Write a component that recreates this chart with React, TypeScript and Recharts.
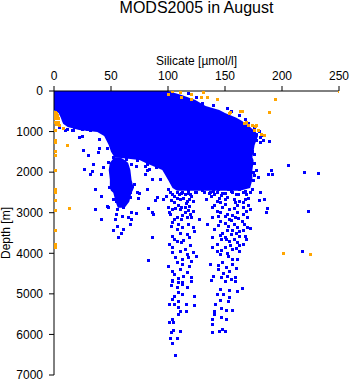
import React from 'react';
import { ComposedChart, XAxis, YAxis, Area, Scatter } from 'recharts';

const FONT = '"Liberation Sans", Arial, Helvetica, sans-serif';
const BLUE = '#0000ff';
const ORANGE = '#ffa500';

const X_TICKS = [0, 50, 100, 150, 200, 250];
const Y_TICKS = [0, 1000, 2000, 3000, 4000, 5000, 6000, 7000];

// dense cloud outline: depth rows with silicate low/high
const mainDepth = [0, 100, 220, 370, 470, 540, 660, 740, 810, 890, 960, 1010, 1110, 1330, 1500, 1630, 1700, 1770, 1950, 2190, 2390, 2460];
const mainLow = [0, 0, 0, 0, 0, 4, 6, 7, 8, 12, 22, 38, 44, 48, 50, 53, 75, 80, 95, 100, 104, 108];
const mainHigh = [100, 112, 124, 133, 145, 150, 160, 165, 168, 172, 175, 177, 179, 176, 175, 174, 175, 175, 174, 174, 172, 163];
const col1Depth = [1630, 1700, 1770, 1950, 2190, 2390, 2460, 2510, 2730, 2880];
const col1Low = [53, 51, 49, 48, 49, 49, 50, 52, 54, 56];
const col1High = [58, 62, 65, 67, 68, 70, 69, 68, 66, 62];

// [silicate, depth]
const blueEdge = [
  [25,1130],[26,1455],[30,1600],[35,1820],[27,1945],[34,1995],[42,2070],[43,1895],[40,1205],[47,1405],[39,1525],[52,1650],[48,1750],[61,1600],[64,1700],[68,1650],[73,1725],[72,1870],[68,1820],[80,1870],[82,1970],[80,2070],[71,2315],[64,2215],[25,960],[32,985],[17,985],[22,1155],[16,985],[18,910],[25,885],[29,960],[33,860],[38,885],[39,985],[43,1035],[10,985],[12,960],[5,910],[40,1420],[32,2070],[47,2855],[82,1700],[90,1895],[86,2190],[93,2190],[91,2635],[96,2685],[86,3005],[84,1700],[87,1775],[82,1820],[84,1945],[89,1650],
  [118,50],[125,150],[130,300],[140,350],[152,420],[156,500],[163,600],[168,700],[171,790],[176,880],[180,1000],[182,1100],
  [108,2500],[112,2520],[118,2470],[125,2500],[130,2460],[136,2530],[143,2500],[150,2520],[156,2480],[162,2540],[168,2480],[120,2560],[147,2580]
];
const blueCol1 = [
  [36,2440],[42,2610],[36,2930],[42,3155],[49,2390],[52,2365],[55,2440],[60,2390],[64,2440],[62,2610],[58,2610],[67,2635],[60,2810],[56,2930],[61,2880],[55,3055],[60,3105],[54,3175],[65,3130],[68,3175],[67,3300],[56,3350],[52,3450],[61,3425],[59,3500],[57,3620],[72,3030],[68,3005],[48,2880],[52,2685],[73,2490],[82,2440],[75,2535],[74,2660],[83,2905],[83,4185],[67,2490],[69,2365],[55,2735],[62,2760],[86,3600]
];
const blueColA = [
  [100,2440],[99,2610],[108,2390],[113,2490],[118,2390],[122,2365],[111,2685],[106,2760],[117,2735],[119,2685],[104,2930],[111,2930],[115,2880],[122,2980],[100,2880],[106,3175],[112,3175],[117,3130],[121,3130],[128,3155],[104,3250],[109,3300],[113,3375],[122,3375],[108,3425],[117,3545],[104,3595],[119,3620],[108,3720],[112,3745],[104,3865],[104,3990],[111,3965],[117,4040],[122,3990],[125,4090],[118,4115],[108,4235],[100,4335],[113,4285],[119,4335],[111,4410],[117,4485],[106,4530],[121,4605],[104,4705],[113,4730],[87,3055],[89,2710],[104,2560],[115,2560],[124,2490],[109,2810],[119,2855],[102,3055],[115,3005],
  [102,2490],[110,2540],[118,2520],[106,2610],[114,2640],[121,2600],[103,2700],[108,2660],[116,2780],[122,2720],[112,2860],[107,2900],[118,2950],[101,2990],[113,3080],[120,3050],[108,3120],[103,3350],[118,3300],[111,3500],[123,3460],[106,3650],[114,3680],[101,3780],[120,3800],[115,3900],[107,4100],[113,4160],[121,4200],[104,4450],[114,4560],[109,4620],
  [104,4680],[109,4730],[113,4780],[103,4800],[108,4850],[117,4850],[121,4705],[109,4975],[113,5025],[123,5075],[106,5075],[104,5150],[109,5195],[116,5270],[106,5270],[101,5270],[109,5345],[123,5295],[111,5445],[116,5445],[109,5515],[104,5640],[105,5715],[101,5715],[105,5910],[111,5935],[103,5960],[102,6110],[108,6110],[104,6230],[107,6525]
];
const blueColB = [
  [132,2365],[137,2490],[141,2560],[134,2685],[146,2760],[152,2635],[157,2510],[163,2440],[169,2560],[161,2810],[154,2930],[166,2880],[150,3105],[159,3130],[165,3225],[146,3225],[153,3350],[161,3375],[148,3500],[156,3545],[163,3595],[147,3670],[154,3720],[161,3745],[150,3865],[157,3915],[139,3865],[143,3965],[153,4090],[161,4160],[148,4235],[157,4285],[144,4410],[154,4460],[147,4605],[156,4655],[137,4285],[135,3300],[139,3620],[170,3375],[169,3670],[141,2810],[150,2685],[168,2685],[146,3005],[161,3005],[154,3175],[166,3055],[141,3425],[163,3475],[151,3670],[166,3795],[146,4040],[163,3965],[139,3130],[159,2760],[144,2440],[153,2440],[172,2490],[132,2510],
  [140,2480],[148,2520],[160,2560],[166,2510],[138,2600],[145,2640],[158,2680],[163,2720],[171,2640],[143,2720],[150,2790],[166,2760],[139,2880],[148,2860],[158,2900],[171,2820],[143,2960],[152,3040],[157,3060],[169,2980],[144,3100],[156,3180],[162,3150],[170,3120],[150,3270],[158,3280],[167,3300],[144,3320],[152,3440],[157,3430],[166,3440],[146,3560],[160,3520],[168,3580],[150,3620],[158,3660],[143,3780],[155,3800],[163,3820],[147,3940],[160,3880],[152,4000],[157,4150],[144,4300],[151,4350],[160,4380],[149,4500],[140,4560],[152,4560],[159,4600],
  [138,4680],[150,4705],[159,4705],[146,4900],[154,4925],[161,4950],[165,4875],[143,5025],[149,5025],[154,5100],[146,5170],[142,5270],[153,5195],[147,5370],[151,5420],[141,5445],[157,5420],[141,5515],[147,5590],[151,5640],[139,5640],[139,5765],[148,5890],[145,5935],[139,5960],[150,5935]
];
const blueRight = [
  [178,1230],[181,1155],[181,1280],[184,1230],[189,1255],[174,1480],[176,1575],[176,1775],[172,1700],[178,1970],[175,2020],[176,2095],[179,2140],[175,2215],[206,1845],[188,2070],[191,1970],[192,2070],[220,2020],[232,2045],[174,2440],[181,2510],[180,2710],[185,2685],[187,2905],[186,3005],[172,2930],[223,2980],[172,3400],[218,3965],[178,1060],[176,960],[174,860]
];
const orangeLeft = [
  [1,540],[2,565],[1,615],[3,615],[1,690],[4,690],[1,765],[4,765],[2,835],[5,860],[8,935],[1,985],[1,1230],[1,1280],[1,1480],[1,1600],[1,1970],[1,2440],[1,2510],[1,2710],[1,2955],[1,3450],[1,3795],[1,3865],[12,1355],[14,2905]
];
const orangeRight = [
  [100,75],[104,0],[111,25],[112,150],[121,75],[121,220],[129,150],[131,25],[135,170],[143,200],[154,565],[155,540],[164,515],[165,515],[167,790],[169,765],[171,860],[174,860],[178,860],[176,985],[179,985],[177,885],[182,1060],[185,1085],[189,540],[194,220],[250,0],[201,4015],[225,4040]
];

const toPts = (arr: number[][]) => arr.map(([si, depth]) => ({ si, depth }));
const bluePts = toPts([...blueEdge, ...blueCol1, ...blueColA, ...blueColB, ...blueRight]);
const orangePts = toPts([...orangeLeft, ...orangeRight]);

const mainData = mainDepth.map((depth, i) => ({ depth, range: [mainLow[i], mainHigh[i]] }));
const col1Data = col1Depth.map((depth, i) => ({ depth, range: [col1Low[i], col1High[i]] }));

const makeSquare = (color: string) => (props: any) => {
  const { cx, cy } = props;
  if (cx == null || cy == null || isNaN(cx) || isNaN(cy)) return <g />;
  return <rect x={Math.round(cx - 1.5)} y={Math.round(cy - 1.5)} width={3} height={3} fill={color} />;
};

export default function App() {
  return (
    <div style={{ position: 'absolute', left: 0, top: 0, width: 351, height: 384, background: '#fff' }}>
      <div
        style={{
          position: 'absolute', left: 54, top: 0, width: 285, textAlign: 'center',
          fontFamily: FONT, fontSize: 16, lineHeight: '16px', color: '#000', whiteSpace: 'nowrap',
        }}
      >
        MODS2005 in August
      </div>
      <div style={{ position: 'absolute', left: 0, top: 0 }}>
        <ComposedChart
          layout="vertical"
          width={351}
          height={384}
          data={mainData}
          margin={{ top: 61, left: 14, right: 12, bottom: 9 }}
        >
          <XAxis
            type="number"
            orientation="top"
            domain={[0, 250]}
            ticks={X_TICKS}
            interval={0}
            allowDataOverflow
            height={30}
            axisLine={{ stroke: '#000' }}
            tickLine={{ stroke: '#000' }}
            tickSize={5}
            tickMargin={6}
            tick={{ fill: '#000', fontSize: 12, fontFamily: FONT }}
            label={{ value: 'Silicate [µmol/l]', position: 'top', offset: -4, fill: '#000', fontSize: 12, fontFamily: FONT }}
          />
          <YAxis
            type="number"
            dataKey="depth"
            domain={[0, 7000]}
            ticks={Y_TICKS}
            interval={0}
            allowDataOverflow
            width={40}
            axisLine={{ stroke: '#000' }}
            tickLine={{ stroke: '#000' }}
            tickSize={5}
            tickMargin={6}
            tick={{ fill: '#000', fontSize: 12, fontFamily: FONT }}
            label={{ value: 'Depth [m]', angle: -90, position: 'insideLeft', offset: -8, fill: '#000', fontSize: 12, fontFamily: FONT, style: { textAnchor: 'middle' } }}
          />
          <Area
            dataKey="range"
            type="linear"
            stroke="none"
            fill={BLUE}
            fillOpacity={1}
            dot={false}
            activeDot={false}
            isAnimationActive={false}
          />
          <Area
            data={col1Data}
            dataKey="range"
            type="linear"
            stroke="none"
            fill={BLUE}
            fillOpacity={1}
            dot={false}
            activeDot={false}
            isAnimationActive={false}
          />
          <Scatter data={bluePts} dataKey="si" shape={makeSquare(BLUE)} isAnimationActive={false} />
          <Scatter data={orangePts} dataKey="si" shape={makeSquare(ORANGE)} isAnimationActive={false} />
        </ComposedChart>
      </div>
    </div>
  );
}
